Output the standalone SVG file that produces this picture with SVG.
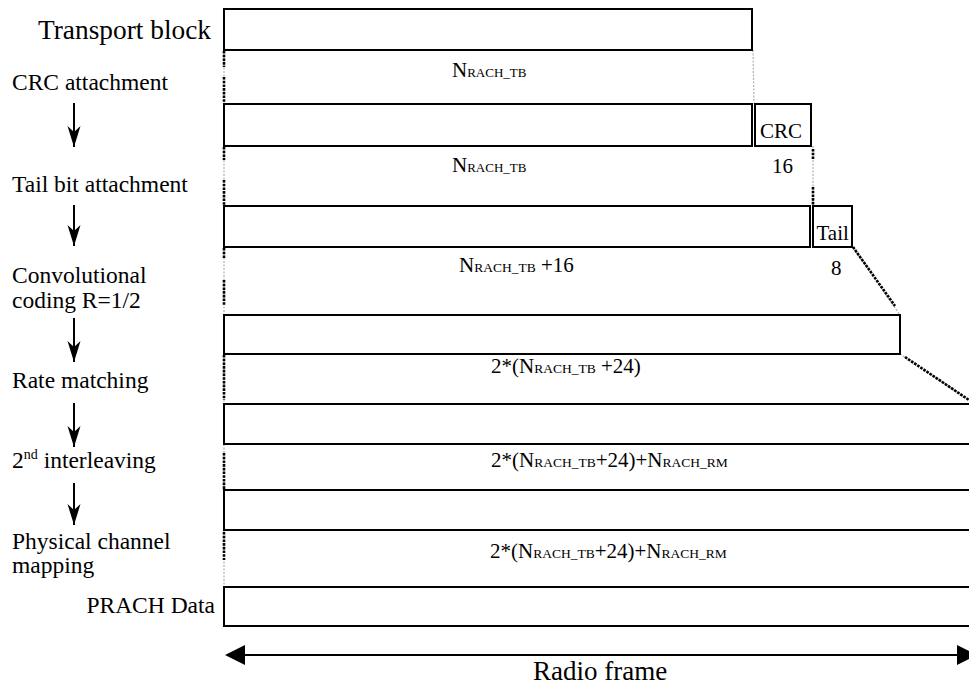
<svg xmlns="http://www.w3.org/2000/svg" width="969" height="686" viewBox="0 0 969 686">
<style>
text{font-family:'Liberation Serif','Times New Roman',Tinos,'DejaVu Serif',serif;fill:#000}
.box{fill:#fff;stroke:#000;stroke-width:2}
.lbl{font-size:23.5px}
.big{font-size:27px}
.val{font-size:21px}
.sc{font-size:13.5px}
.grey{stroke:#b0b0b0;stroke-width:1.2;stroke-dasharray:2 1.5;fill:none}
.dot{stroke:#000;stroke-width:2.6;stroke-dasharray:2.6 1.1;fill:none}
.flow{stroke:#000;stroke-width:2;fill:none;marker-end:url(#ah)}
</style>
<defs>
<marker id="ah" markerUnits="userSpaceOnUse" markerWidth="16" markerHeight="22" refX="7" refY="21" orient="0">
<path d="M0.5,0 L7,6 L13.5,0 L7,21 Z" fill="#000"/>
</marker>
</defs>

<g id="labels">
<text class="big" x="211" y="39" text-anchor="end" textLength="173" lengthAdjust="spacingAndGlyphs">Transport block</text>
<text class="lbl" x="12" y="90">CRC attachment</text>
<text class="lbl" x="12" y="192">Tail bit attachment</text>
<text class="lbl" x="12" y="283">Convolutional</text>
<text class="lbl" x="12" y="308">coding R=1/2</text>
<text class="lbl" x="12" y="388">Rate matching</text>
<text class="lbl" x="12" y="468">2<tspan font-size="14" dy="-9">nd</tspan><tspan dy="9"> interleaving</tspan></text>
<text class="lbl" x="12" y="549">Physical channel</text>
<text class="lbl" x="12" y="573">mapping</text>
<text class="lbl" x="215" y="613" text-anchor="end">PRACH Data</text>
</g>

<g id="flow-arrows">
<line class="flow" x1="74" y1="103" x2="74" y2="147"/>
<line class="flow" x1="74" y1="205" x2="74" y2="246"/>
<line class="flow" x1="74" y1="318" x2="74" y2="362"/>
<line class="flow" x1="74" y1="403" x2="74" y2="447"/>
<line class="flow" x1="74" y1="483" x2="74" y2="525"/>
</g>

<g id="connectors">
<line class="grey" x1="224" y1="50" x2="224" y2="104"/>
<line class="dot" x1="224" y1="51" x2="224" y2="67"/>
<line class="dot" x1="224" y1="77" x2="224" y2="103"/>
<line class="grey" x1="224" y1="146" x2="224" y2="206"/>
<line class="dot" x1="224" y1="147" x2="224" y2="160"/>
<line class="dot" x1="224" y1="180" x2="224" y2="205"/>
<line class="grey" x1="224" y1="247" x2="224" y2="315"/>
<line class="dot" x1="224" y1="248" x2="224" y2="258"/>
<line class="dot" x1="224" y1="280" x2="224" y2="305"/>
<line class="grey" x1="224" y1="354" x2="224" y2="404"/>
<line class="dot" x1="224" y1="355" x2="224" y2="400"/>
<line class="grey" x1="224" y1="444" x2="224" y2="490"/>
<line class="dot" x1="224" y1="453" x2="224" y2="489"/>
<line class="grey" x1="224" y1="530" x2="224" y2="587"/>
<line class="dot" x1="224" y1="532" x2="224" y2="560"/>
<line class="grey" x1="753" y1="50" x2="754" y2="104"/>
<line class="grey" x1="813" y1="146" x2="813" y2="206"/>
<line class="dot" x1="813" y1="149" x2="813" y2="160"/>
<line class="dot" x1="813" y1="187" x2="813" y2="205"/>
<line class="grey" x1="852" y1="246" x2="900" y2="315"/>
<line class="dot" x1="853" y1="247" x2="895" y2="306"/>
<line class="grey" x1="900" y1="354" x2="969" y2="400"/>
<line class="dot" x1="905" y1="357" x2="969" y2="400"/>
</g>

<g id="transport-block">
<rect class="box" x="224" y="9" width="528" height="41"/>
<text class="val" x="452" y="77" font-size="20">N<tspan font-size="13">RACH_TB</tspan></text>
</g>

<g id="crc-row">
<rect class="box" x="224" y="104" width="528" height="42"/>
<rect class="box" x="755" y="104" width="56" height="42"/>
<text class="val" x="760" y="138" font-size="23">CRC</text>
<text class="val" x="452" y="172" font-size="20">N<tspan font-size="13">RACH_TB</tspan></text>
<text class="val" x="772" y="173" font-size="20">16</text>
</g>

<g id="tail-row">
<rect class="box" x="224" y="206" width="586" height="41"/>
<rect class="box" x="813" y="206" width="39" height="41"/>
<text class="val" x="816.5" y="240">Tail</text>
<text class="val" x="459" y="272" font-size="20">N<tspan font-size="13.5">RACH_TB</tspan> +16</text>
<text class="val" x="831" y="275">8</text>
</g>

<g id="coded-row">
<rect class="box" x="224" y="315" width="676" height="39"/>
<text class="val" x="491" y="373">2*(N<tspan class="sc">RACH_TB</tspan> +24)</text>
</g>

<g id="rate-matched-row">
<rect class="box" x="224" y="404" width="760" height="40"/>
<text class="val" x="491" y="467">2*(N<tspan class="sc">RACH_TB</tspan>+24)+N<tspan class="sc">RACH_RM</tspan></text>
</g>

<g id="interleaved-row">
<rect class="box" x="224" y="490" width="760" height="40"/>
<text class="val" x="490" y="558">2*(N<tspan class="sc">RACH_TB</tspan>+24)+N<tspan class="sc">RACH_RM</tspan></text>
</g>

<g id="prach-data">
<rect class="box" x="224" y="587" width="760" height="39"/>
</g>

<g id="radio-frame">
<line x1="240" y1="655" x2="960" y2="655" stroke="#000" stroke-width="2"/>
<path d="M225,655 L245,645 L245,665 Z" fill="#000"/>
<path d="M977,655 L957,645 L957,665 Z" fill="#000"/>
<text class="big" x="533" y="680">Radio frame</text>
</g>
</svg>
